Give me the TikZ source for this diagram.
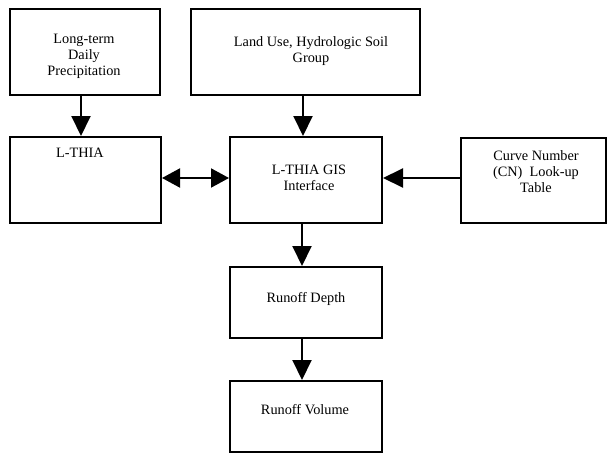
\documentclass[tikz,border=0pt]{standalone}
\usepackage{fontspec}
\setmainfont{Liberation Serif}
\usetikzlibrary{arrows.meta}
\begin{document}
\begin{tikzpicture}[x=1pt,y=-1pt,
  box/.style={draw,line width=2pt,minimum width=#1,inner sep=0pt},
  txt/.style={align=center,inner sep=0pt,font=\fontsize{14.3}{16}\selectfont},
  arr/.style={line width=2pt,-{Triangle[length=20pt,width=19pt]}},
  darr/.style={line width=2pt,{Triangle[length=18pt,width=19pt]}-{Triangle[length=18pt,width=19pt]}}]
\useasboundingbox (0,0) rectangle (608,455);
\node[box=150pt,minimum height=86pt] (b1) at (85,52) {};
\node[box=229pt,minimum height=86pt] (b2) at (305.5,52) {};
\node[box=151pt,minimum height=86pt] (lt) at (85.5,180) {};
\node[box=152pt,minimum height=86pt] (gis) at (306,180) {};
\node[box=145pt,minimum height=85pt] (cn) at (533.5,180) {};
\node[box=152pt,minimum height=71pt] (rd) at (306,302.5) {};
\node[box=152pt,minimum height=71pt] (rv) at (306,416.5) {};
\node[txt] (t1) at (84,56) {Long-term\\Daily\\Precipitation};
\node[txt] (t2) at (311,51) {Land Use, Hydrologic Soil\\Group};
\node[txt] (tlt) at (80,153) {L-THIA};
\node[txt] (tgis) at (309,178) {L-THIA GIS\\Interface};
\node[txt] (tcn) at (536,172) {Curve Number\\(CN)\ \ Look-up\\Table};
\node[txt] (trd) at (306,299) {Runoff Depth};
\node[txt] (trv) at (305,410) {Runoff Volume};
\draw[arr] ([xshift=-4pt]b1.south) -- ([xshift=-4pt]b1.south |- lt.north);
\draw[arr] ([xshift=-3pt]gis.north |- b2.south) -- ([xshift=-3pt]gis.north);
\draw[darr] ([yshift=2pt]lt.east) -- ([yshift=2pt]gis.west);
\draw[arr] ([yshift=2pt]cn.west) -- ([yshift=2pt]gis.east);
\draw[arr] ([xshift=-4pt]gis.south) -- ([xshift=-4pt]rd.north);
\draw[arr] ([xshift=-4pt]rd.south) -- ([xshift=-4pt]rv.north);
\end{tikzpicture}
\end{document}
